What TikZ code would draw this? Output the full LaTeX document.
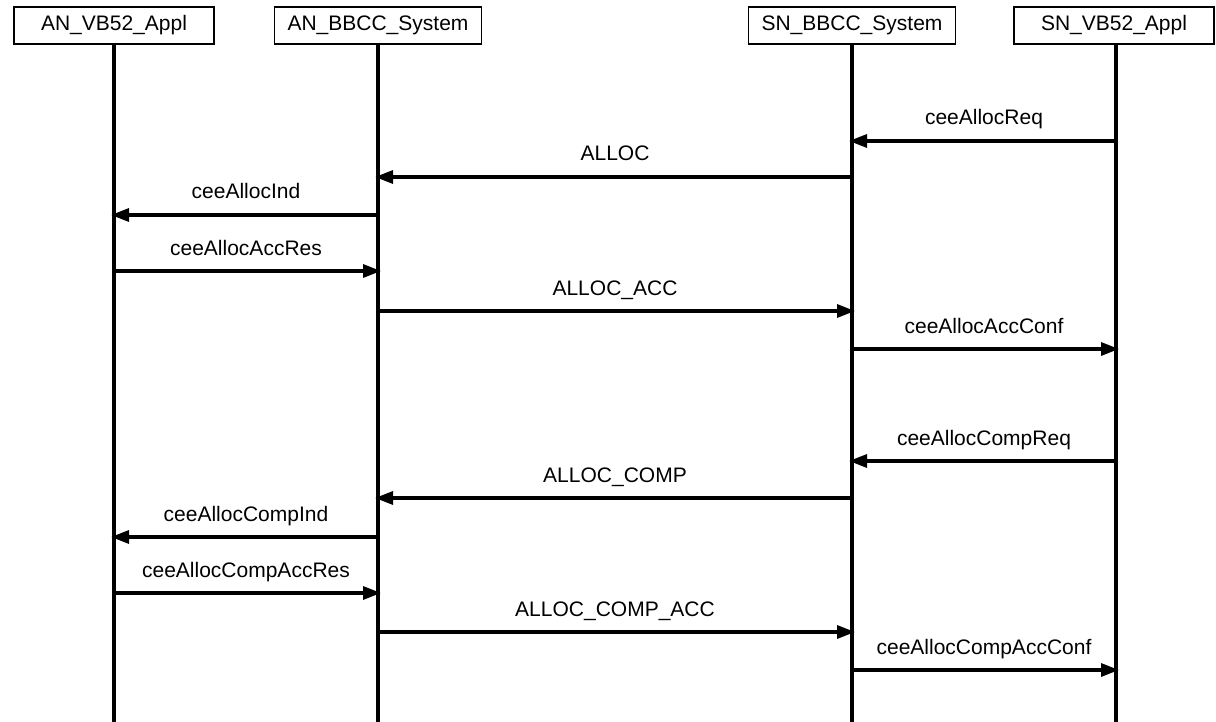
\documentclass[tikz,border=0pt]{standalone}
\usepackage{fontspec}
\setmainfont{Liberation Sans}
\usetikzlibrary{arrows.meta}

\begin{document}
\begin{tikzpicture}[x=1pt, y=-1pt,
    head/.style={draw, line width=1.8pt, minimum height=37pt, minimum width=200pt, inner xsep=13pt,
                 font=\fontsize{21}{25}\selectfont},
    life/.style={line width=3.2pt},
    msg/.style={line width=3.2pt, -{Triangle[length=18pt, width=13pt]}, shorten >=-3pt},
    lbl/.style={midway, anchor=base, yshift=16pt, font=\fontsize{21}{25}\selectfont}]
        \useasboundingbox (0,0) rectangle (1216,722);
        % instances
        \node[head] (anvb) at (114,25.5) {AN\_VB52\_Appl};
        \node[head] (anbbcc) at (378,25.5) {AN\_BBCC\_System};
        \node[head] (snbbcc) at (852,25.5) {SN\_BBCC\_System};
        \node[head] (snvb) at (1114,25.5) {SN\_VB52\_Appl};
        \coordinate (anvbend) at (114,722);
        \coordinate (anbbccend) at (378,722);
        \coordinate (snbbccend) at (852,722);
        \coordinate (snvbend) at (1116,722);
        \draw[life] (anvb) -- (anvbend);
        \draw[life] (anbbcc) -- (anbbccend);
        \draw[life] (snbbcc) -- (snbbccend);
        \draw[life] (snvb.south -| snvbend) -- (snvbend);

        % allocation
        \draw[msg] (snvbend |- 0,141) -- (snbbcc |- 0,141) node[lbl] {ceeAllocReq};
        \draw[msg] (snbbcc |- 0,177) -- (anbbcc |- 0,177) node[lbl] {ALLOC};
        \draw[msg] (anbbcc |- 0,215) -- (anvb |- 0,215) node[lbl] {ceeAllocInd};
        \draw[msg] (anvb |- 0,271) -- (anbbcc |- 0,271) node[lbl] {ceeAllocAccRes};
        \draw[msg] (anbbcc |- 0,311) -- (snbbcc |- 0,311) node[lbl] {ALLOC\_ACC};
        \draw[msg] (snbbcc |- 0,349) -- (snvbend |- 0,349) node[lbl] {ceeAllocAccConf};

        % completion
        \draw[msg] (snvbend |- 0,461) -- (snbbcc |- 0,461) node[lbl] {ceeAllocCompReq};
        \draw[msg] (snbbcc |- 0,498) -- (anbbcc |- 0,498) node[lbl] {ALLOC\_COMP};
        \draw[msg] (anbbcc |- 0,537) -- (anvb |- 0,537) node[lbl] {ceeAllocCompInd};
        \draw[msg] (anvb |- 0,593) -- (anbbcc |- 0,593) node[lbl] {ceeAllocCompAccRes};
        \draw[msg] (anbbcc |- 0,632) -- (snbbcc |- 0,632) node[lbl] {ALLOC\_COMP\_ACC};
        \draw[msg] (snbbcc |- 0,670) -- (snvbend |- 0,670) node[lbl] {ceeAllocCompAccConf};
    \end{tikzpicture}
\end{document}
